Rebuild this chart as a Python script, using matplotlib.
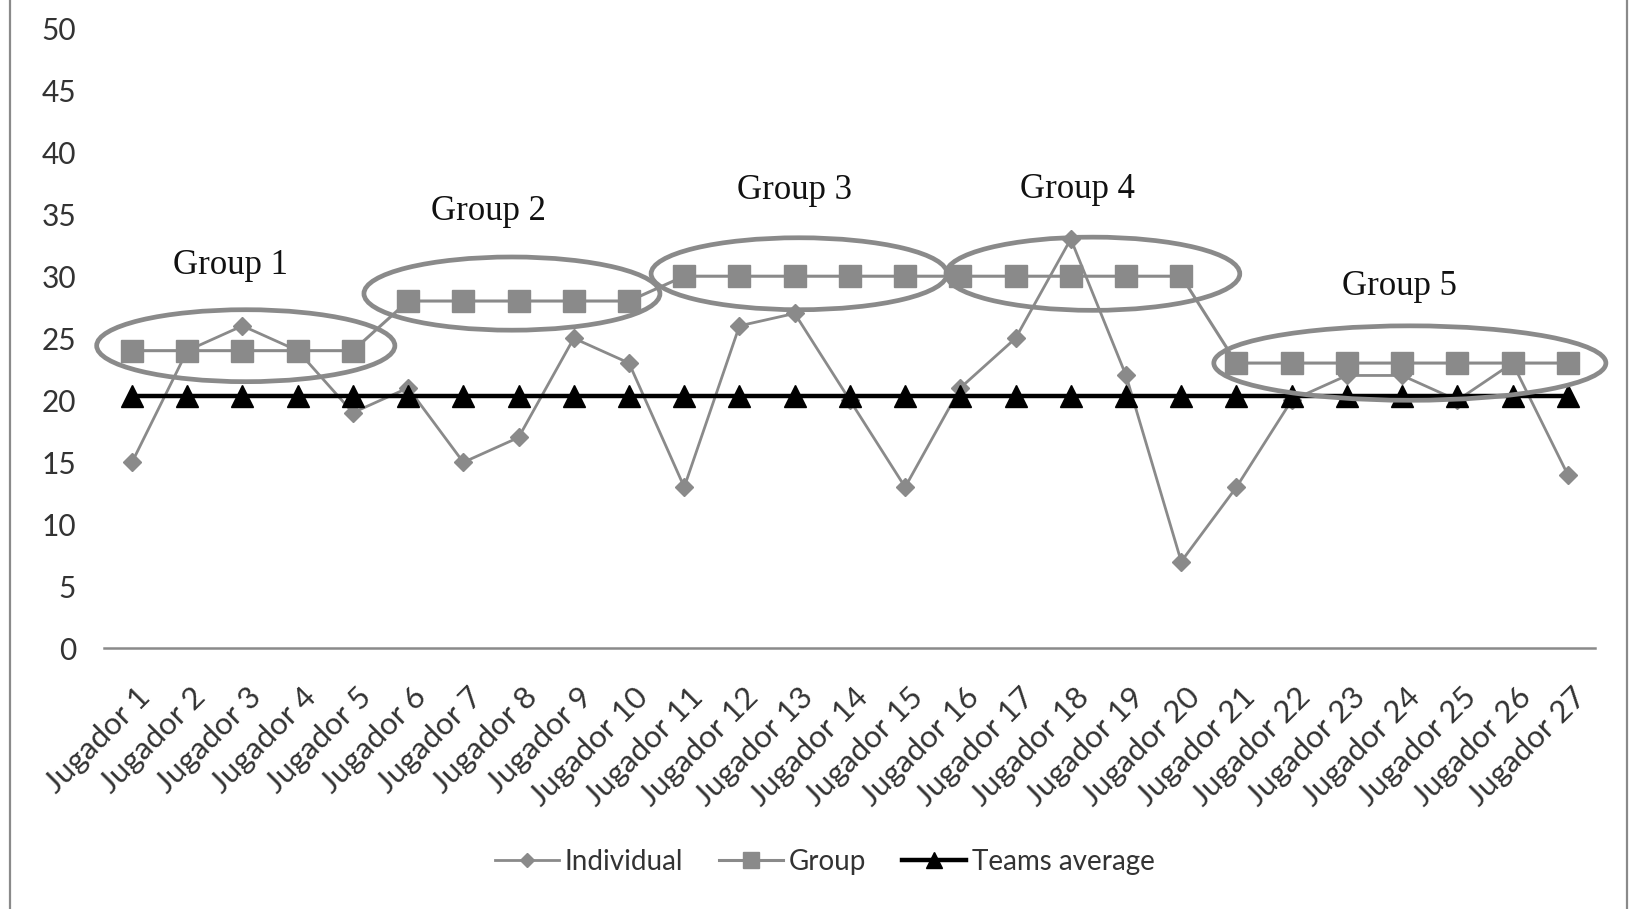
import matplotlib
matplotlib.use("Agg")
import matplotlib.pyplot as plt
from matplotlib.patches import Ellipse
from matplotlib.lines import Line2D
from matplotlib.transforms import ScaledTranslation

# ---------------- data ----------------
players = [f"Jugador {i}" for i in range(1, 28)]
individual = [15, 24, 26, 24, 19, 21, 15, 17, 25, 23, 13, 26, 27, 20, 13,
              21, 25, 33, 22, 7, 13, 20, 22, 22, 20, 23, 14]
group = [24, 24, 24, 24, 24, 28, 28, 28, 28, 28, 30, 30, 30, 30, 30,
         30, 30, 30, 30, 30, 23, 23, 23, 23, 23, 23, 23]
teams_average = [20.37] * 27
group_names = ["Group 1", "Group 2", "Group 3", "Group 4", "Group 5"]
y_ticks = [0, 5, 10, 15, 20, 25, 30, 35, 40, 45, 50]

# ---------------- layout / style ----------------
W, H, DPI = 1632, 909, 100
GRAY = "#8a8a8a"
TXT = "#333333"

# ellipse annotations (center x, center y, width, height) in data units
ellipses = [(3.06, 24.4, 5.40, 5.8), (7.88, 28.6, 5.36, 5.9),
            (13.08, 30.2, 5.36, 5.8), (18.40, 30.2, 5.32, 5.9),
            (24.14, 23.0, 7.10, 6.0)]
label_pos = [(2.79, 30.2), (7.46, 34.5), (12.99, 36.2), (18.12, 36.3), (23.95, 28.5)]

fig = plt.figure(figsize=(W / DPI, H / DPI), dpi=DPI)
ax = fig.add_axes([104.4 / W, 1 - 648.4 / H, 1491.0 / W, 620.3 / H])

x = list(range(1, len(players) + 1))
ax.plot(x, individual, color=GRAY, lw=2.0, marker="D", markersize=9.5,
        markeredgecolor=GRAY, markerfacecolor=GRAY, zorder=3, label="Individual")
ax.plot(x, group, color=GRAY, lw=2.2, marker="s", markersize=16.5,
        markeredgecolor=GRAY, markerfacecolor=GRAY, zorder=4, label="Group")
ax.plot(x, teams_average, color="black", lw=3.2, marker="^", markersize=16,
        markeredgecolor="black", markerfacecolor="black", zorder=5,
        label="Teams average")

for (cx, cy, w, h) in ellipses:
    ax.add_patch(Ellipse((cx, cy), w, h, fill=False, edgecolor=GRAY, lw=3.4,
                         zorder=6, clip_on=False))
for name, (lx, ly) in zip(group_names, label_pos):
    ax.text(lx, ly, name, ha="center", va="baseline", fontsize=25,
            family=["Liberation Serif", "DejaVu Serif"], color="#111111", zorder=7)

ax.set_xlim(0.5, len(players) + 0.5)
ax.set_ylim(0, 50)
ax.set_yticks(y_ticks)
ax.set_yticklabels([str(v) for v in y_ticks], family=["Lato", "DejaVu Sans"],
                   fontsize=21.5, color=TXT)
ax.tick_params(axis="y", length=0, pad=20.5)
ax.set_xticks(x)
ax.set_xticklabels(players, rotation=45, ha="right", va="center",
                   rotation_mode="anchor", family=["Lato", "DejaVu Sans"],
                   fontsize=22.5, color=TXT)
ax.tick_params(axis="x", length=0, pad=0)
off = ScaledTranslation(14 / DPI, -44 / DPI, fig.dpi_scale_trans)
for lab in ax.get_xticklabels():
    lab.set_transform(lab.get_transform() + off)

for s in ["top", "right", "left"]:
    ax.spines[s].set_visible(False)
ax.spines["bottom"].set_color(GRAY)
ax.spines["bottom"].set_linewidth(1.8)

# outer chart border (left and right edges visible)
fig.add_artist(Line2D([10 / W, 10 / W], [0, 1], color=GRAY, lw=1.6,
                      transform=fig.transFigure))
fig.add_artist(Line2D([1627 / W, 1627 / W], [0, 1], color=GRAY, lw=1.6,
                      transform=fig.transFigure))

leg = fig.legend(loc="center", bbox_to_anchor=(825 / W, 1 - 862 / H), ncol=3,
                 frameon=False, prop={"family": ["Lato", "DejaVu Sans"], "size": 20},
                 handlelength=2.3, handletextpad=0.2, columnspacing=1.3,
                 markerscale=0.7)
for t in leg.get_texts():
    t.set_color(TXT)

fig.savefig("out.png", dpi=DPI)
